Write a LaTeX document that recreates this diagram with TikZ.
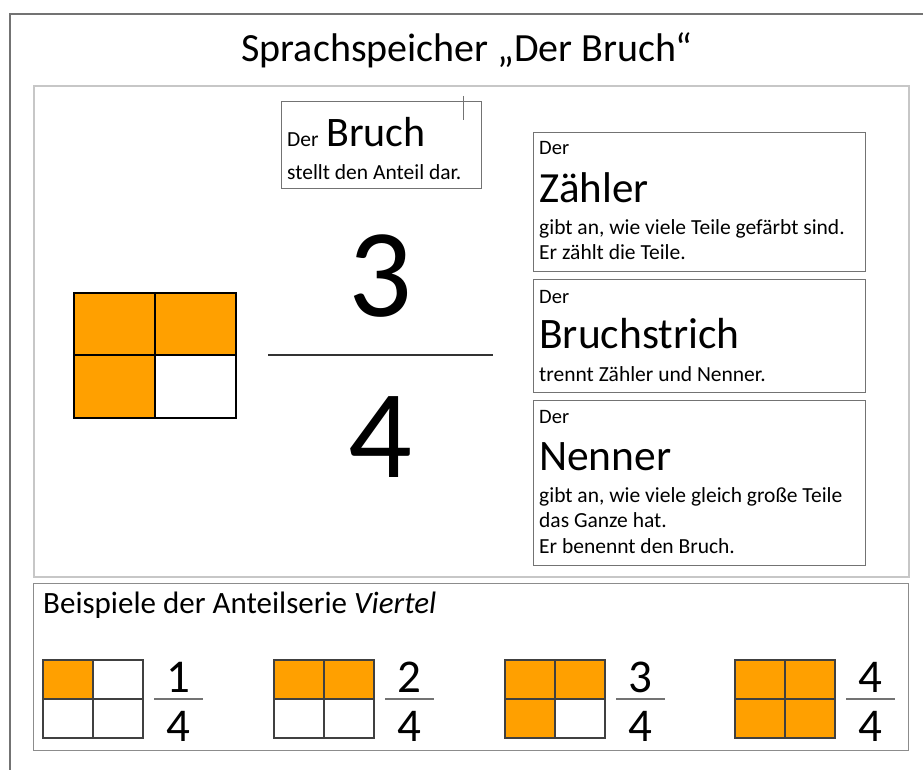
\documentclass[tikz,border=0pt]{standalone}
\usepackage{fontspec}
\setmainfont{Carlito}
\definecolor{og}{RGB}{255,160,0}
\newcommand\myfs[1]{\fontsize{#1}{#1}\selectfont}
\tikzset{
  txt/.style={inner sep=0, anchor=base west},
  frameline/.style={draw=black!55, line width=1.6},
  panelA/.style={draw=black!22, line width=2, inner sep=0, anchor=north west},
  panelB/.style={draw=black!45, line width=1.3, inner sep=0, anchor=north west},
  textbox/.style={draw=black!55, line width=1.4, inner sep=0, anchor=north west},
  bigcell/.style={draw=black, line width=2.6},
  smallcell/.style={draw=black!75, line width=1.3},
  fracline/.style={draw=black!55, line width=1.3},
}
\begin{document}
\begin{tikzpicture}[x=1pt,y=-1pt]
\useasboundingbox (0,0) rectangle (923,770);
% outer frame
\coordinate (fbl) at (10,770);
\coordinate (ftl) at (10,14);
\coordinate (ftr) at (923,14);
\draw[frameline] (fbl) -- (ftl) -- (ftr);
\node[txt, anchor=base] (title) at (467,62) {\myfs{40}Sprachspeicher „Der Bruch“};
% panels
\node[panelA, minimum width=875, minimum height=491] (upper) at (33,85) {};
\node[panelB, minimum width=875, minimum height=167] (lower) at (33,583) {};
% Der Bruch box
\node[textbox, minimum width=200, minimum height=87] (bruchbox) at (281,101) {};
\draw[black!55, line width=1] (463,96) -- (463,120);
\node[txt] (bder) at (287,147) {\myfs{21.5}Der};
\node[txt] (bbruch) at (326,147) {\myfs{42}Bruch};
\node[txt] (bstellt) at (287,179) {\myfs{21.5}stellt den Anteil dar.};
% big fraction
\node[txt, anchor=base] (zaehl) at (380,316) {\myfs{126}3};
\node[txt, anchor=base] (nenn) at (380,477) {\myfs{126}4};
\coordinate (fl1) at (268,355);
\coordinate (fl2) at (493,355);
\draw[black!80, line width=2] (fl1) -- (fl2);
% big grid
\fill[og] (74,293) rectangle (236,355);
\fill[og] (74,355) rectangle (155,418);
\draw[bigcell] (74,293) rectangle (236,418);
\draw[bigcell] (155,293) -- (155,418);
\draw[bigcell] (74,355) -- (236,355);
% right boxes
\node[textbox, minimum width=332, minimum height=139] (zbox) at (533,132) {};
\node[txt] (z1) at (539,155) {\myfs{20.5}Der};
\node[txt] (z2) at (539,202) {\myfs{43}Zähler};
\node[txt] (z3) at (539,234) {\myfs{21.5}gibt an, wie viele Teile gefärbt sind.};
\node[txt] (z4) at (539,259) {\myfs{21.5}Er zählt die Teile.};
\node[textbox, minimum width=332, minimum height=113] (sbox) at (533,279) {};
\node[txt] (s1) at (539,303) {\myfs{20.5}Der};
\node[txt] (s2) at (539,348) {\myfs{43.5}Bruchstrich};
\node[txt] (s3) at (539,381) {\myfs{21.5}trennt Zähler und Nenner.};
\node[textbox, minimum width=332, minimum height=165] (nbox) at (533,400) {};
\node[txt] (n1) at (539,423) {\myfs{20.5}Der};
\node[txt] (n2) at (539,470) {\myfs{43.5}Nenner};
\node[txt] (n3) at (539,502) {\myfs{21.5}gibt an, wie viele gleich große Teile};
\node[txt] (n4) at (539,527) {\myfs{21.5}das Ganze hat.};
\node[txt] (n5) at (539,553) {\myfs{21.5}Er benennt den Bruch.};
% lower panel
\node[txt] (bsp) at (43,613) {\myfs{31}Beispiele der Anteilserie \textit{Viertel}};
\foreach \x/\n/\k in {43/1/1, 274/2/2, 505/3/3, 735/4/4} {
  \fill[og] (\x,660) rectangle ++(50,39);
  \ifnum\k>1 \fill[og] (\x+50,660) rectangle ++(50,39); \fi
  \ifnum\k>2 \fill[og] (\x,699) rectangle ++(50,39); \fi
  \ifnum\k>3 \fill[og] (\x+50,699) rectangle ++(50,39); \fi
  \draw[smallcell] (\x,660) rectangle ++(100,78);
  \draw[smallcell] (\x+50,660) -- ++(0,78);
  \draw[smallcell] (\x,699) -- ++(100,0);
  \draw[fracline] (\x+111,699) -- (\x+160,699);
  \node[txt, anchor=base] (num\k) at (\x+135.5,692) {\myfs{47}\n};
  \node[txt, anchor=base] (den\k) at (\x+135.5,741) {\myfs{47}4};
}
\end{tikzpicture}
\end{document}
